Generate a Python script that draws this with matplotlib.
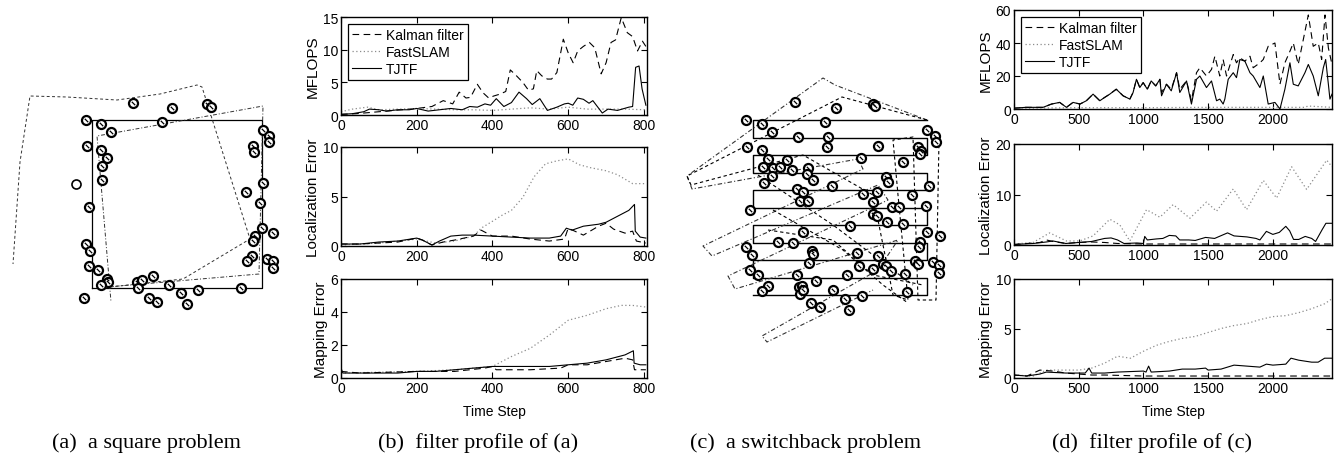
#!/usr/bin/env python3
"""
Filter comparison figure: two SLAM maps and their filter profiles
(Kalman filter / FastSLAM / TJTF).
"""

import matplotlib
matplotlib.use('Agg')
import matplotlib.pyplot as plt

plt.rcParams['font.family'] = ['Liberation Sans', 'DejaVu Sans']

W, H = 1334, 456

# ── (a) square problem map (units) ─────────────────────────
sq_x = [0, 17, 17, 0, 0]
sq_y = [0, 0, 16.8, 16.8, 0]
a_kalman_x = [1.8, 9.1, 15.8, 11.0, 10.5, 6.8, 2.5, -2.5, -6.2, -7.2, -7.9]
a_kalman_y = [0.1, 0.9, 4.9, 20.1, 20.3, 19.4, 18.8, 19.1, 19.2, 12.6, 2.4]
a_tjtf_x = [1.5, 16.7, 17.1, 0.5, 1.9]
a_tjtf_y = [0.1, 1.4, 18.2, 15.2, -1.4]
a_lm_x = [4.1, 8.0, 11.5, 11.9, -0.6, 0.9, 7.0, 1.9, 17.1, 17.7, 17.7, -0.5, 0.9,
          16.1, 16.2, 1.5, 1.0, 1.0, 17.1, 15.4, 16.8, -0.3, 17.0, 18.1, 16.3,
          16.1, -0.6, -0.2, 16.0, 15.5, 17.5, 18.1, 18.1, -0.3, 0.6, 6.1, 1.5,
          1.6, 0.9, 4.5, 5.0, 4.6, 7.7, 10.6, 14.9, 8.9, 5.7, 6.5, 9.5, -0.8]
a_lm_y = [18.5, 18.0, 18.4, 18.1, 16.8, 16.4, 16.6, 15.6, 15.8, 15.2, 14.6, 14.2,
          13.8, 14.2, 13.6, 13.0, 12.2, 10.8, 10.5, 9.6, 8.5, 8.1, 6.0, 5.5, 5.2,
          4.7, 4.4, 3.7, 3.2, 2.7, 2.9, 2.7, 2.0, 2.2, 1.8, 1.2, 0.9, 0.6, 0.3,
          0.6, 0.8, 0.0, 0.3, -0.2, 0.0, -0.5, -1.0, -1.4, -1.6, -1.0]
a_open_x = [-1.6]
a_open_y = [10.4]

# ── (c) switchback problem map (units) ─────────────────────
sw_rows = [17.5, 15.75, 14.0, 12.25, 10.5, 8.75, 7.0, 5.25, 3.5, 1.75, 0.0]
sw_left, sw_right = 0.0, 17.4
c_tjtf_x = [17.4, 8.2, 7.0, -6.6, -6.1, 10.5, 11.0, -5.0, -4.1, 12.5, 13.5,
            -2.5, -1.8, 14.5, 12.5, 0.9, 1.4, 12.0]
c_tjtf_y = [17.5, 21.0, 21.7, 11.9, 10.6, 13.6, 12.6, 4.9, 3.9, 11.0, 9.5,
            1.9, 0.6, 5.5, 2.5, -4.1, -4.7, 0.5]
c_kalman_x = [17.4, 8.9, -6.6, -6.2, 5.0, 12.0, 14.0, 15.5, 14.5, 14.0, 16.0,
              16.5, 18.3, 18.6, 17.8]
c_kalman_y = [17.5, 19.8, 11.9, 11.0, 14.0, 10.0, 0.0, -0.5, 10.0, 15.5, 15.8,
              -0.5, -0.5, 15.5, 15.9]
c_diag1_x = [2.0, 9.0, 13.0, 15.5]
c_diag1_y = [8.5, 4.5, 1.0, -0.8]
c_diag2_x = [0.5, 8.0, 14.0, 16.0]
c_diag2_y = [12.0, 7.0, 2.5, 1.0]
c_diag3_x = [1.5, 8.0, 12.0, 17.0]
c_diag3_y = [6.5, 5.5, 2.0, 1.0]
c_lm_x = [4.2, 8.3, 12.0, 12.2, -0.7, 0.9, 1.9, 7.2, 4.5, 7.5, 7.4, 17.4, 18.2,
          18.3, -0.6, 0.9, 12.5, 16.5, 16.8, 16.7, 10.8, 15.0, 1.5, 3.4, 1.0,
          2.0, 2.7, 3.9, 5.5, 5.4, 6.0, 1.9, 1.1, 7.9, 13.3, 13.5, 17.6, 4.4,
          5.0, 4.7, 5.5, 11.0, 12.4, 15.9, 12.0, 17.3, -0.3, 13.9, 14.6, 12.0,
          12.4, 13.4, 15.0, 9.7, 5.0, 2.5, 4.0, 17.4, 18.7, 16.7, 16.6, -0.7,
          -0.1, 5.9, 6.0, 5.6, 10.4, 12.5, 13.0, 13.3, 13.8, 10.6, 16.2, 16.5,
          18.0, 18.6, 18.6, -0.3, 0.5, 4.4, 9.4, 12.0, 15.2, 1.5, 0.9, 4.6, 4.9,
          4.7, 6.3, 8.0, 9.2, 10.9, 15.4, 5.8, 6.7, 9.6, 5.0]
c_lm_y = [19.3, 18.7, 19.1, 18.9, 17.5, 17.1, 16.3, 17.3, 15.8, 15.8, 14.8,
          16.5, 15.9, 15.3, 14.8, 14.5, 14.9, 14.8, 14.4, 14.1, 13.7, 13.3, 13.6,
          13.5, 12.8, 12.7, 12.8, 12.5, 12.7, 12.1, 11.5, 11.9, 11.2, 10.9, 11.8,
          11.3, 10.9, 10.6, 10.3, 9.4, 9.4, 10.1, 10.3, 10.0, 9.3, 8.9, 8.5, 8.8,
          8.8, 8.1, 7.9, 7.3, 7.1, 6.9, 6.3, 5.3, 5.2, 6.3, 5.9, 5.3, 4.8, 4.8,
          4.0, 4.4, 4.1, 3.2, 4.2, 3.9, 3.1, 2.9, 2.4, 2.9, 3.4, 3.1, 3.3, 3.0,
          2.2, 2.5, 2.0, 2.0, 2.0, 2.6, 2.1, 0.9, 0.4, 0.8, 0.9, 0.1, 1.4, 0.5,
          -0.4, -0.1, 0.3, -0.8, -1.2, -1.5, 0.5]

# ── (b) filter profile of (a) ──────────────────────────────
b_mfl_kf_t = [0, 40, 80, 120, 160, 200, 240, 270, 295, 312, 330, 342, 360, 375,
              390, 403, 420, 435, 447, 460, 480, 495, 508, 517, 530, 545, 556,
              570, 587, 600, 613, 625, 640, 656, 670, 687, 700, 713, 725, 740,
              756, 770, 783, 796, 805]
b_mfl_kf = [0.1, 0.2, 0.4, 0.6, 0.8, 1.0, 1.3, 2.2, 1.7, 3.5, 2.6, 2.7, 4.7, 3.4,
            2.6, 2.9, 3.2, 3.6, 6.9, 6.2, 5.0, 3.8, 4.0, 6.8, 6.0, 5.5, 5.5, 6.5,
            11.6, 9.5, 8.0, 9.8, 10.5, 11.1, 10.3, 6.3, 8.0, 11.1, 11.5, 14.9,
            12.6, 12.0, 9.8, 11.3, 10.5]
b_mfl_fs_t = [0, 30, 70, 100, 150, 200, 250, 300, 350, 400, 450, 500, 550, 600,
              650, 700, 750, 805]
b_mfl_fs = [0.5, 0.9, 1.2, 0.8, 0.9, 1.0, 0.9, 0.8, 0.8, 0.7, 0.9, 1.1, 0.9, 1.2,
            0.9, 0.9, 0.9, 0.8]
b_mfl_tj_t = [0, 30, 60, 75, 100, 120, 150, 180, 200, 230, 260, 290, 320, 340,
              360, 380, 395, 410, 430, 450, 470, 490, 505, 525, 545, 570, 590,
              600, 612, 625, 640, 655, 665, 690, 705, 730, 760, 770, 778, 787,
              795, 805]
b_mfl_tj = [0.1, 0.2, 0.5, 0.9, 0.8, 0.6, 0.8, 0.8, 1.0, 0.6, 0.8, 1.0, 0.8, 1.3,
            1.2, 1.7, 1.5, 2.5, 1.3, 1.9, 3.5, 2.5, 1.6, 2.5, 0.7, 1.2, 1.7, 1.8,
            1.5, 2.6, 2.4, 1.8, 2.2, 0.3, 0.9, 0.7, 1.2, 1.3, 7.3, 7.5, 4.0, 1.5]

b_loc_kf_t = [0, 50, 100, 150, 200, 215, 240, 270, 300, 350, 370, 400, 450, 500,
              550, 590, 600, 640, 680, 700, 720, 750, 770, 780, 805]
b_loc_kf = [0.2, 0.2, 0.3, 0.4, 0.8, 0.6, 0.1, 0.4, 0.6, 1.0, 1.6, 1.0, 1.0, 0.7,
            0.5, 0.7, 1.8, 1.1, 2.0, 2.3, 1.7, 1.3, 1.5, 0.5, 0.3]
b_loc_tj_t = [0, 50, 100, 150, 200, 215, 240, 260, 290, 320, 350, 400, 450, 500,
              550, 580, 595, 610, 640, 680, 700, 730, 760, 775, 777, 790, 805]
b_loc_tj = [0.2, 0.2, 0.4, 0.5, 0.8, 0.6, 0.1, 0.5, 1.0, 1.1, 1.1, 1.0, 0.9, 0.8,
            0.8, 1.0, 1.8, 1.6, 2.0, 2.2, 2.4, 3.0, 3.6, 4.2, 1.5, 0.9, 0.8]
b_loc_fs_t = [0, 100, 200, 250, 300, 350, 370, 400, 425, 450, 480, 510, 540, 570,
              600, 630, 660, 700, 730, 770, 805]
b_loc_fs = [0.1, 0.3, 0.7, 0.3, 0.5, 1.0, 1.8, 2.5, 3.1, 3.6, 4.9, 7.0, 8.3, 8.6,
            8.8, 8.2, 7.9, 7.6, 7.2, 6.3, 6.3]

b_map_tj_t = [0, 5, 50, 100, 150, 200, 250, 300, 350, 400, 450, 500, 550, 600,
              650, 700, 750, 772, 774, 790, 805]
b_map_tj = [0.6, 0.3, 0.3, 0.3, 0.3, 0.4, 0.4, 0.5, 0.6, 0.7, 0.7, 0.7, 0.7, 0.8,
            0.9, 1.1, 1.4, 1.65, 0.9, 0.8, 0.8]
b_map_kf_t = [0, 50, 200, 300, 380, 400, 410, 450, 500, 580, 600, 650, 700, 750,
              770, 775, 805]
b_map_kf = [0.4, 0.3, 0.4, 0.4, 0.6, 0.7, 0.5, 0.5, 0.5, 0.6, 0.8, 0.8, 1.0, 1.2,
            1.1, 0.5, 0.5]
b_map_fs_t = [0, 200, 300, 400, 450, 500, 550, 600, 650, 700, 740, 770, 805]
b_map_fs = [0.3, 0.4, 0.5, 0.7, 1.3, 1.8, 2.6, 3.5, 3.8, 4.2, 4.4, 4.4, 4.3]

# ── (d) filter profile of (c) ──────────────────────────────
d_mfl_tj_t = [0, 90, 170, 224, 290, 353, 405, 456, 510, 559, 611, 663, 700, 740,
              790, 843, 895, 920, 946, 972, 998, 1030, 1060, 1095, 1127, 1140,
              1178, 1215, 1256, 1281, 1333, 1371, 1410, 1436, 1487, 1526, 1565,
              1590, 1616, 1629, 1655, 1694, 1719, 1745, 1784, 1823, 1848, 1900,
              1926, 1964, 2016, 2055, 2093, 2132, 2158, 2196, 2248, 2274, 2312,
              2351, 2390, 2408, 2429, 2441, 2457]
d_mfl_tj = [0.5, 1, 1, 1, 3, 4, 1, 4, 3, 5, 9, 5, 7, 9, 12, 8, 6, 10, 18, 13, 16,
            12, 17, 14, 18, 8, 15, 11, 22, 10, 17, 3, 18, 20, 13, 17, 5, 6, 3, 6,
            18, 22, 19, 30, 29, 22, 20, 13, 20, 3, 4, 0, 12, 28, 15, 14, 22, 27,
            20, 8, 25, 30, 15, 6, 9]
d_mfl_kf_t = [0, 90, 170, 224, 290, 353, 405, 456, 510, 559, 611, 663, 700, 740,
              790, 843, 895, 920, 946, 972, 998, 1030, 1060, 1095, 1127, 1140,
              1178, 1215, 1256, 1281, 1333, 1371, 1410, 1436, 1487, 1526, 1552,
              1590, 1616, 1642, 1694, 1719, 1745, 1784, 1823, 1848, 1900, 1926,
              1964, 2016, 2055, 2093, 2132, 2158, 2196, 2235, 2274, 2312, 2351,
              2377, 2403, 2429, 2457]
d_mfl_kf = [0.5, 1, 1, 1, 3, 4, 1, 4, 3, 5, 9, 5, 7, 9, 12, 8, 6, 10, 18, 13, 16,
            12, 17, 14, 18, 10, 15, 12, 22, 12, 17, 5, 22, 25, 20, 24, 32, 20, 30,
            20, 33, 28, 31, 29, 32, 25, 28, 30, 38, 40, 15, 28, 35, 40, 27, 42,
            57, 38, 40, 30, 57, 37, 27]
d_mfl_fs_t = [0, 500, 1000, 1500, 2000, 2250, 2270, 2457]
d_mfl_fs = [0.5, 0.8, 0.8, 1.0, 1.0, 1.0, 1.8, 1.0]

d_loc_fs_t = [0, 147, 276, 405, 508, 611, 740, 817, 895, 1024, 1127, 1230, 1359,
              1487, 1565, 1694, 1797, 1926, 2029, 2145, 2261, 2416, 2457]
d_loc_fs = [0.2, 0.5, 2.4, 0.8, 0.8, 1.8, 5.1, 4.0, 0.8, 7.0, 5.5, 8.0, 5.3, 8.5,
            6.7, 11.1, 7.0, 12.8, 9.3, 15.5, 11.0, 16.8, 15.5]
d_loc_tj_t = [0, 150, 250, 300, 400, 500, 600, 700, 750, 800, 850, 950, 1000,
              1010, 1030, 1100, 1150, 1200, 1250, 1280, 1350, 1400, 1480, 1550,
              1650, 1700, 1800, 1870, 1900, 1950, 2000, 2050, 2100, 2130, 2160,
              2200, 2250, 2300, 2330, 2380, 2410, 2457]
d_loc_tj = [0.1, 0.3, 0.6, 0.8, 0.3, 0.5, 0.7, 1.3, 1.4, 1.0, 0.3, 0.4, 0.3, 1.7,
            1.0, 1.2, 1.3, 1.9, 1.8, 1.0, 1.0, 0.9, 1.5, 1.3, 2.4, 1.8, 1.6, 1.3,
            1.0, 2.7, 2.1, 2.5, 3.7, 2.8, 1.1, 1.1, 1.7, 1.3, 0.7, 3.0, 4.3, 4.3]
d_loc_kf_t = [0, 200, 250, 300, 400, 500, 600, 700, 800, 1000, 1500, 2000, 2457]
d_loc_kf = [0.1, 0.5, 1.0, 0.7, 0.3, 0.5, 0.6, 0.5, 0.3, 0.2, 0.2, 0.2, 0.2]

d_map_fs_t = [0, 150, 250, 350, 500, 600, 700, 800, 900, 1000, 1100, 1200, 1300,
              1400, 1500, 1600, 1700, 1800, 1900, 2000, 2100, 2200, 2300, 2400,
              2457]
d_map_fs = [0.3, 0.2, 0.8, 0.8, 0.8, 1.0, 1.5, 2.2, 2.0, 2.7, 3.3, 3.7, 4.0, 4.2,
            4.6, 5.0, 5.3, 5.5, 5.9, 6.2, 6.3, 6.6, 7.0, 7.5, 8.0]
d_map_tj_t = [0, 100, 200, 250, 400, 550, 580, 600, 700, 800, 1000, 1020, 1040,
              1060, 1200, 1300, 1400, 1480, 1500, 1600, 1700, 1800, 1900, 1950,
              2000, 2100, 2140, 2200, 2300, 2350, 2400, 2457]
d_map_tj = [0.3, 0.2, 0.4, 0.6, 0.5, 0.5, 1.0, 0.5, 0.5, 0.6, 0.7, 0.6, 1.2, 0.6,
            0.7, 0.9, 0.9, 1.0, 0.8, 0.9, 1.3, 1.2, 1.1, 1.4, 1.3, 1.4, 2.0, 1.8,
            1.6, 1.6, 2.0, 2.0]
d_map_kf_t = [0, 100, 200, 300, 400, 600, 700, 1000, 2457]
d_map_kf = [0.3, 0.2, 0.8, 0.7, 0.5, 0.3, 0.3, 0.2, 0.2]

LEGEND = ['Kalman filter', 'FastSLAM', 'TJTF']
CAPTIONS = ['(a)  a square problem', '(b)  filter profile of (a)',
            '(c)  a switchback problem', '(d)  filter profile of (c)']

# ── styles ────────────────────────────────────────────────
KF_STYLE = dict(color='black', lw=0.8, dashes=(6, 4))
FS_STYLE = dict(color='#8c8c8c', lw=0.9, ls=(0, (1, 2)))
TJ_STYLE = dict(color='black', lw=0.8)


def px_axes(fig, left, top, right, bottom):
    return fig.add_axes([left / W, 1 - bottom / H, (right - left) / W,
                         (bottom - top) / H])


def style_ts(ax, xlim, xticks, ylim, yticks, ylabel, xlabel=None):
    ax.set_xlim(*xlim)
    ax.set_ylim(*ylim)
    ax.set_xticks(xticks)
    ax.set_yticks(yticks)
    ax.tick_params(direction='in', top=True, right=True, length=4,
                   width=0.8, labelsize=10, pad=2)
    for sp in ax.spines.values():
        sp.set_linewidth(1.0)
    ax.set_ylabel(ylabel, fontsize=11, labelpad=2)
    if xlabel:
        ax.set_xlabel(xlabel, fontsize=10, labelpad=7)


def add_legend(ax, handles):
    leg = ax.legend(handles, LEGEND, loc='upper left', fontsize=10,
                    fancybox=False, edgecolor='black', framealpha=1,
                    handlelength=2.1, borderpad=0.3, labelspacing=0.2,
                    handletextpad=0.35, borderaxespad=0.5)
    leg.get_frame().set_linewidth(0.9)


def draw_landmarks(ax, xs, ys, face='white'):
    ax.plot(xs, ys, 'o', ms=6.5, mfc=face, mec='black', mew=1.6, zorder=5)
    ax.plot(xs, ys, ls='none', marker=(2, 0, 45), ms=3.5, mec='black',
            mew=0.9, zorder=6)


fig = plt.figure(figsize=(W / 100, H / 100), dpi=100)

# ── (a) map ───────────────────────────────────────────────
axa = px_axes(fig, 0, 70, 290, 320)
axa.set_xlim(-9.2, 19.8)
axa.set_ylim(-3.1, 21.9)
axa.axis('off')
axa.plot(sq_x, sq_y, color='black', lw=0.9)
axa.plot(a_kalman_x, a_kalman_y, color='#333333', lw=0.7, dashes=(3, 2.5))
axa.plot(a_tjtf_x, a_tjtf_y, color='#333333', lw=0.7, dashes=(4, 2, 1, 2))
draw_landmarks(axa, a_lm_x, a_lm_y)
axa.plot(a_open_x, a_open_y, 'o', ms=6.5, mfc='white', mec='black', mew=1.2)

# ── (c) map ───────────────────────────────────────────────
axc = px_axes(fig, 660, 60, 960, 350)
axc.set_xlim(-9.3, 20.7)
axc.set_ylim(-5.4, 23.6)
axc.axis('off')
sw_x, sw_y = [sw_right], [sw_rows[0]]
for i, r in enumerate(sw_rows):
    end = sw_left if i % 2 == 0 else sw_right
    sw_x += [end]
    sw_y += [r]
    if i + 1 < len(sw_rows):
        sw_x += [end]
        sw_y += [sw_rows[i + 1]]
axc.plot(sw_x, sw_y, color='black', lw=1.0)
axc.plot(c_tjtf_x, c_tjtf_y, color='#333333', lw=0.8, dashes=(4, 2, 1, 2))
axc.plot(c_kalman_x, c_kalman_y, color='black', lw=0.8, dashes=(3, 2.5))
for dx, dy in [(c_diag1_x, c_diag1_y), (c_diag2_x, c_diag2_y),
               (c_diag3_x, c_diag3_y)]:
    axc.plot(dx, dy, color='black', lw=0.8, dashes=(3, 2.5))
draw_landmarks(axc, c_lm_x, c_lm_y)

# ── (b) profile ───────────────────────────────────────────
b_xlim, b_xt = (0, 808), [0, 200, 400, 600, 800]
ax = px_axes(fig, 341, 18, 647, 116)
l1, = ax.plot(b_mfl_kf_t, b_mfl_kf, **KF_STYLE)
l2, = ax.plot(b_mfl_fs_t, b_mfl_fs, **FS_STYLE)
l3, = ax.plot(b_mfl_tj_t, b_mfl_tj, **TJ_STYLE)
style_ts(ax, b_xlim, b_xt, (0, 15), [0, 5, 10, 15], 'MFLOPS')
add_legend(ax, [l1, l2, l3])

ax = px_axes(fig, 341, 148, 647, 247)
ax.plot(b_loc_fs_t, b_loc_fs, **FS_STYLE)
ax.plot(b_loc_kf_t, b_loc_kf, **KF_STYLE)
ax.plot(b_loc_tj_t, b_loc_tj, **TJ_STYLE)
style_ts(ax, b_xlim, b_xt, (0, 10), [0, 5, 10], 'Localization Error')

ax = px_axes(fig, 341, 280, 647, 379)
ax.plot(b_map_fs_t, b_map_fs, **FS_STYLE)
ax.plot(b_map_kf_t, b_map_kf, **KF_STYLE)
ax.plot(b_map_tj_t, b_map_tj, **TJ_STYLE)
style_ts(ax, b_xlim, b_xt, (0, 6), [0, 2, 4, 6], 'Mapping Error', 'Time Step')

# ── (d) profile ───────────────────────────────────────────
d_xlim, d_xt = (0, 2457), [0, 500, 1000, 1500, 2000]
ax = px_axes(fig, 1014, 11, 1332, 110)
l1, = ax.plot(d_mfl_kf_t, d_mfl_kf, **KF_STYLE)
l2, = ax.plot(d_mfl_fs_t, d_mfl_fs, **FS_STYLE)
l3, = ax.plot(d_mfl_tj_t, d_mfl_tj, **TJ_STYLE)
style_ts(ax, d_xlim, d_xt, (0, 60), [0, 20, 40, 60], 'MFLOPS')
add_legend(ax, [l1, l2, l3])

ax = px_axes(fig, 1014, 145, 1332, 246)
ax.plot(d_loc_fs_t, d_loc_fs, **FS_STYLE)
ax.plot(d_loc_kf_t, d_loc_kf, **KF_STYLE)
ax.plot(d_loc_tj_t, d_loc_tj, **TJ_STYLE)
style_ts(ax, d_xlim, d_xt, (0, 20), [0, 10, 20], 'Localization Error')

ax = px_axes(fig, 1014, 280, 1332, 379)
ax.plot(d_map_fs_t, d_map_fs, **FS_STYLE)
ax.plot(d_map_kf_t, d_map_kf, **KF_STYLE)
ax.plot(d_map_tj_t, d_map_tj, **TJ_STYLE)
style_ts(ax, d_xlim, d_xt, (0, 10), [0, 5, 10], 'Mapping Error', 'Time Step')

# ── captions ──────────────────────────────────────────────
cap_x = [146, 478, 806, 1152]
for txt, cx in zip(CAPTIONS, cap_x):
    fig.text(cx / W, 1 - 443 / H, txt, ha='center', va='center',
             fontsize=16, family=['Liberation Serif', 'DejaVu Serif'])

fig.savefig('out.png', dpi=100)
